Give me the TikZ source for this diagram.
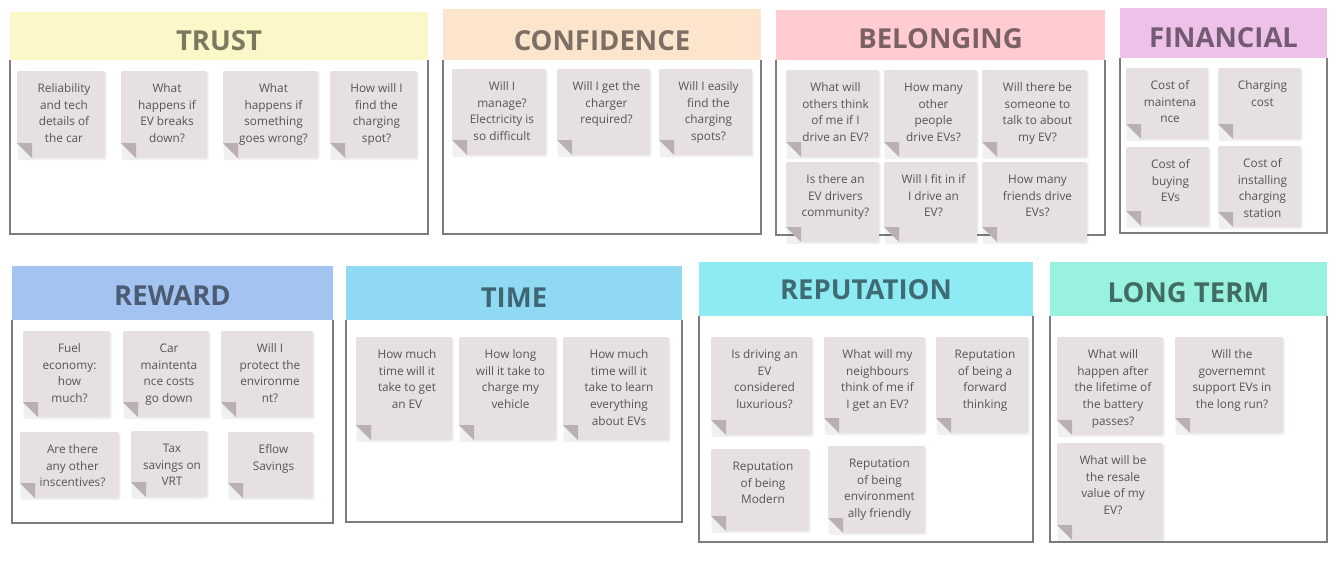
\documentclass[tikz,border=0pt]{standalone}
\usepackage{fontspec}
\setmainfont{Open Sans}
\definecolor{notec}{HTML}{E6DFE3}
\definecolor{foldc}{HTML}{B9AFB4}
\definecolor{notetextc}{HTML}{555555}
\definecolor{boxc}{HTML}{7D7D7D}
\definecolor{trustf}{HTML}{FBF7C9}\definecolor{trustt}{HTML}{7B7860}
\definecolor{conff}{HTML}{FCE4CD}\definecolor{conft}{HTML}{7B6F66}
\definecolor{belf}{HTML}{FFCDD1}\definecolor{belt}{HTML}{7B6064}
\definecolor{finf}{HTML}{EEC1E9}\definecolor{fint}{HTML}{735C72}
\definecolor{rewf}{HTML}{A3C4F1}\definecolor{rewt}{HTML}{4B5C74}
\definecolor{timef}{HTML}{8FDAF2}\definecolor{timet}{HTML}{3F6674}
\definecolor{repf}{HTML}{8EEBF4}\definecolor{rept}{HTML}{3F6C74}
\definecolor{longf}{HTML}{99F2DF}\definecolor{longt}{HTML}{406C64}
\tikzset{
  boxline/.style={draw=boxc, line width=1.8pt},
  grouptitle/.style={anchor=base, inner sep=0pt, font=\fontsize{27.5}{30}\selectfont\bfseries},
  notetext/.style={anchor=north, inner sep=0pt, align=center, text=notetextc,
    font=\fontsize{11.8}{16.8}\selectfont},
}
% name, x0, y0, x1, y1, text
\newcommand\stickynote[6]{%
  \fill[black, opacity=0.06, rounded corners=2pt] ({#2+0.5},{#3+1}) rectangle ({#4+1.5},{#5+2});
  \fill[notec] ({#2+15},{#5}) [rounded corners=2pt] -- ({#4},{#5}) -- ({#4},{#3}) -- ({#2},{#3}) [sharp corners] -- ({#2},{#5-15}) -- cycle;
  \fill[foldc] ({#2},{#5-15}) -- ({#2+15},{#5-15}) -- ({#2+15},{#5}) -- cycle;
  \node[notetext] (#1) at ({(#2+#4)/2+3},{#3+11}) {\rule{0pt}{10pt}#6};
}
% [title baseline] name(prefix of colours), x0, y0, x1, yh, y1, title
\newcommand\groupbox[8][]{%
  \draw[boxline] (#3,#6) -- (#3,#7) -- (#5,#7) -- (#5,#6);
  \fill[#2f] (#3,#4) rectangle (#5,#6);
  \node[grouptitle, text=#2t] (#2) at ({(#3+#5)/2},{#1}) {#8};
}
\begin{document}
\begin{tikzpicture}[x=1pt,y=-1pt]
\useasboundingbox[fill=white] (0,0) rectangle (1341,568);
% groups
\groupbox[50]{trust}{10}{12}{428}{60}{234}{TRUST}
\groupbox[50]{conf}{443}{9}{761}{60}{234}{CONFIDENCE}
\groupbox[48]{bel}{776}{10}{1105}{60}{235}{BELONGING}
\groupbox[47]{fin}{1120}{8}{1327}{58}{233}{FINANCIAL}
\groupbox[305]{rew}{12}{266}{333}{320}{523}{REWARD}
\groupbox[307]{time}{346}{266}{682}{320}{522}{TIME}
\groupbox[299]{rep}{699}{262}{1033}{316}{542}{REPUTATION}
\groupbox[302]{long}{1050}{262}{1327}{316}{542}{LONG TERM}
% TRUST
\stickynote{t1}{17}{71}{105}{158}{Reliability\\and tech\\details of\\the car}
\stickynote{t2}{121}{71}{207}{158}{What\\happens if\\EV breaks\\down?}
\stickynote{t3}{223}{71}{318}{158}{What\\happens if\\something\\goes wrong?}
\stickynote{t4}{330}{71}{417}{158}{How will I\\find the\\charging\\spot?}
% CONFIDENCE
\stickynote{c1}{452}{69}{546}{155}{Will I\\manage?\\Electricity is\\so difficult}
\stickynote{c2}{557}{69}{650}{155}{Will I get the\\charger\\required?}
\stickynote{c3}{659}{69}{752}{155}{Will I easily\\find the\\charging\\spots?}
% BELONGING
\stickynote{b1}{786}{70}{879}{157}{What will\\others think\\of me if I\\drive an EV?}
\stickynote{b2}{884}{70}{977}{157}{How many\\other\\people\\drive EVs?}
\stickynote{b3}{982}{70}{1087}{157}{Will there be\\someone to\\talk to about\\my EV?}
\stickynote{b4}{786}{162}{879}{242}{Is there an\\EV drivers\\community?}
\stickynote{b5}{884}{162}{977}{242}{Will I fit in if\\I drive an\\EV?}
\stickynote{b6}{982}{162}{1087}{242}{How many\\friends drive\\EVs?}
% FINANCIAL
\stickynote{f1}{1126}{68}{1208}{139}{Cost of\\maintena\\nce}
\stickynote{f2}{1218}{68}{1301}{139}{Charging\\cost}
\stickynote{f3}{1126}{147}{1209}{226}{Cost of\\buying\\EVs}
\stickynote{f4}{1218}{146}{1301}{227}{Cost of\\installing\\charging\\station}
% REWARD
\stickynote{r1}{23}{331}{110}{417}{Fuel\\economy:\\how\\much?}
\stickynote{r2}{123}{331}{209}{417}{Car\\maintenta\\nce costs\\go down}
\stickynote{r3}{221}{331}{313}{417}{Will I\\protect the\\environme\\nt?}
\stickynote{r4}{20}{432}{119}{498}{Are there\\any other\\inscentives?}
\stickynote{r5}{131}{431}{207}{497}{Tax\\savings on\\VRT}
\stickynote{r6}{228}{432}{313}{498}{Eflow\\Savings}
% TIME
\stickynote{m1}{356}{337}{452}{440}{How much\\time will it\\take to get\\an EV}
\stickynote{m2}{459}{337}{556}{440}{How long\\will it take to\\charge my\\vehicle}
\stickynote{m3}{563}{337}{669}{440}{How much\\time will it\\take to learn\\everything\\about EVs}
% REPUTATION
\stickynote{p1}{711}{337}{812}{435}{Is driving an\\EV\\considered\\luxurious?}
\stickynote{p2}{824}{337}{925}{433}{What will my\\neighbours\\think of me if\\I get an EV?}
\stickynote{p3}{936}{337}{1028}{433}{Reputation\\of being a\\forward\\thinking}
\stickynote{p4}{711}{449}{809}{531}{Reputation\\of being\\Modern}
\stickynote{p5}{828}{446}{925}{533}{Reputation\\of being\\environment\\ally friendly}
% LONG TERM
\stickynote{l1}{1057}{337}{1163}{435}{What will\\happen after\\the lifetime of\\the battery\\passes?}
\stickynote{l2}{1175}{337}{1283}{433}{Will the\\governemnt\\support EVs in\\the long run?}
\stickynote{l3}{1057}{443}{1163}{540}{What will be\\the resale\\value of my\\EV?}
\end{tikzpicture}
\end{document}
